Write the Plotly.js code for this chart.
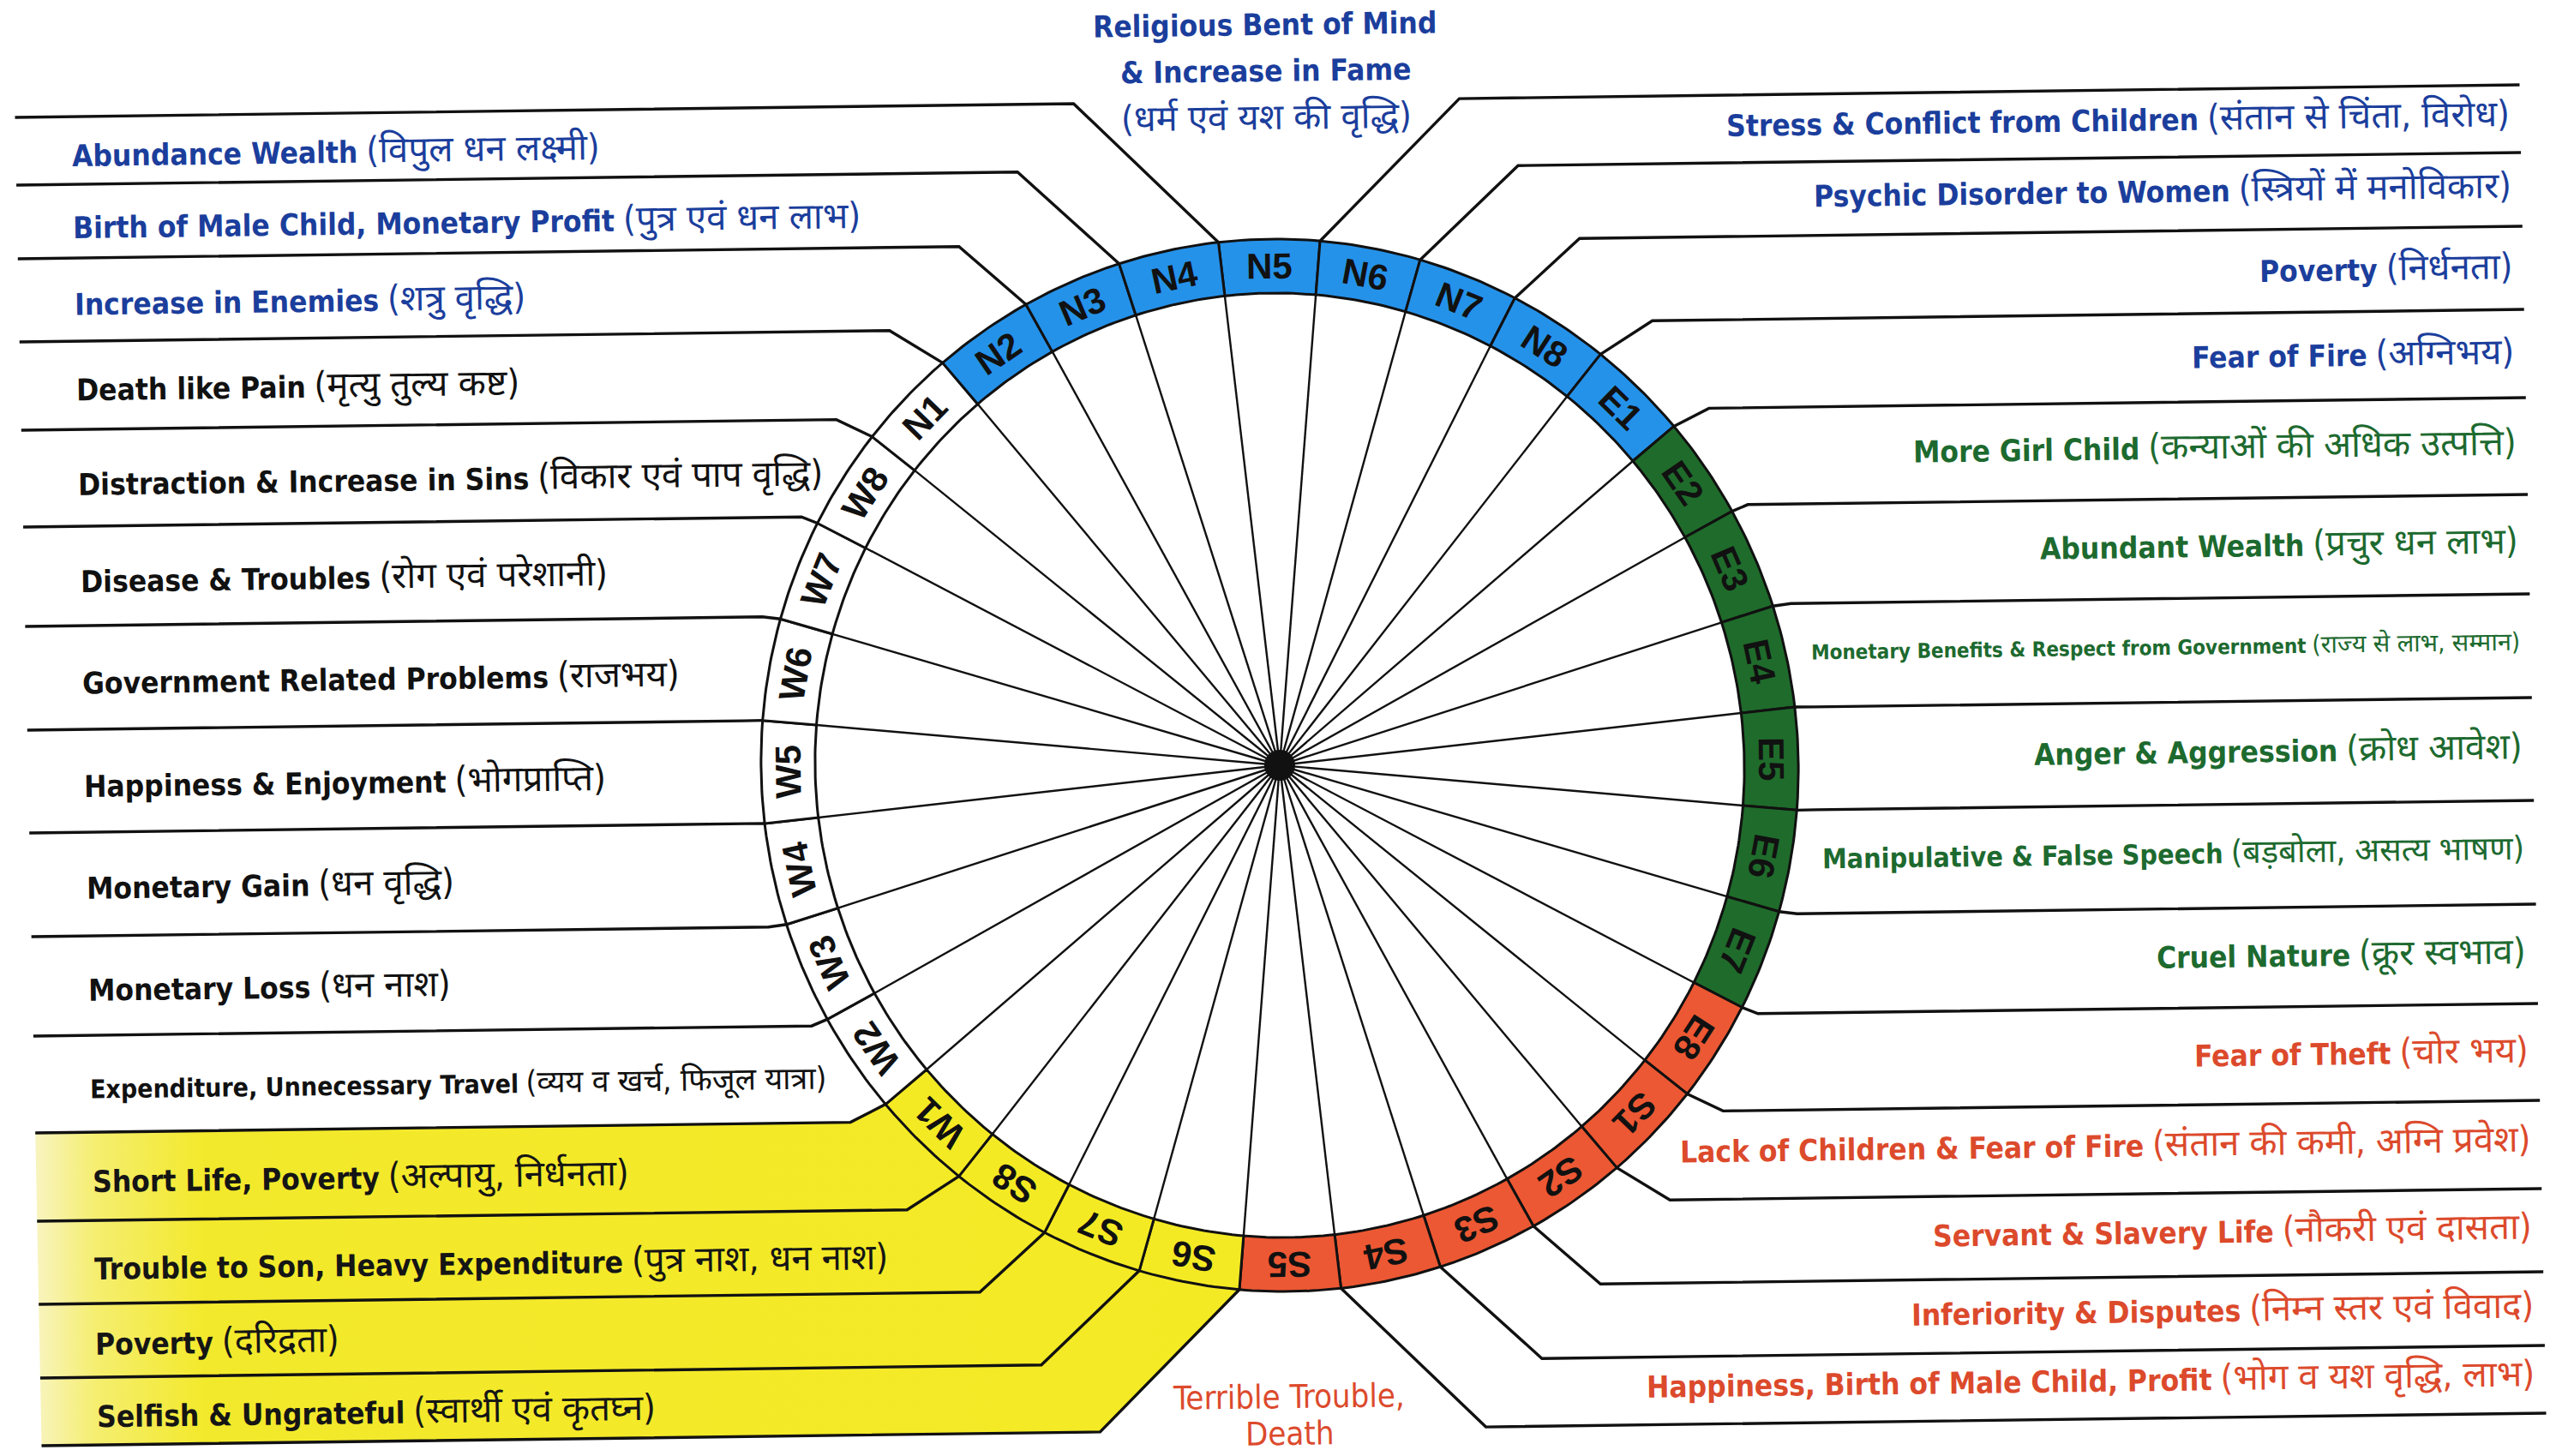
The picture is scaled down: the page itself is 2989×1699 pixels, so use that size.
<!DOCTYPE html>
<html>
<head>
<meta charset="utf-8">
<script src="https://cdn.plot.ly/plotly-3.0.1.min.js"></script>
<style>
html,body{margin:0;padding:0;background:#ffffff;}
#chart{width:2989px;height:1699px;}
</style>
</head>
<body>
<div id="chart"></div>
<script>
// ---------------- DATA ----------------
// 32 entrances (padas), clockwise from North-centre (N5 at the top)
const segments = ['N5','N6','N7','N8','E1','E2','E3','E4','E5','E6','E7','E8',
                  'S1','S2','S3','S4','S5','S6','S7','S8','W1','W2','W3','W4',
                  'W5','W6','W7','W8','N1','N2','N3','N4'];
// colour zone of each entrance
const zones = ['blue','blue','blue','blue','blue','green','green','green','green','green','green','red',
               'red','red','red','red','red','yellow','yellow','yellow','yellow','white','white','white',
               'white','white','white','white','white','blue','blue','blue'];
// effect of each entrance (same order as segments)
const effects = [
  'Religious Bent of Mind<br>& Increase in Fame<br>(धर्म एवं यश की वृद्धि)',
  'Stress & Conflict from Children (संतान से चिंता, विरोध)',
  'Psychic Disorder to Women (स्त्रियों में मनोविकार)',
  'Poverty (निर्धनता)',
  'Fear of Fire (अग्निभय)',
  'More Girl Child (कन्याओं की अधिक उत्पत्ति)',
  'Abundant Wealth (प्रचुर धन लाभ)',
  'Monetary Benefits & Respect from Government (राज्य से लाभ, सम्मान)',
  'Anger & Aggression (क्रोध आवेश)',
  'Manipulative & False Speech (बड़बोला, असत्य भाषण)',
  'Cruel Nature (क्रूर स्वभाव)',
  'Fear of Theft (चोर भय)',
  'Lack of Children & Fear of Fire (संतान की कमी, अग्नि प्रवेश)',
  'Servant & Slavery Life (नौकरी एवं दासता)',
  'Inferiority & Disputes (निम्न स्तर एवं विवाद)',
  'Happiness, Birth of Male Child, Profit (भोग व यश वृद्धि, लाभ)',
  'Terrible Trouble,<br>Death',
  'Selfish & Ungrateful (स्वार्थी एवं कृतघ्न)',
  'Poverty (दरिद्रता)',
  'Trouble to Son, Heavy Expenditure (पुत्र नाश, धन नाश)',
  'Short Life, Poverty (अल्पायु, निर्धनता)',
  'Expenditure, Unnecessary Travel (व्यय व खर्च, फिजूल यात्रा)',
  'Monetary Loss (धन नाश)',
  'Monetary Gain (धन वृद्धि)',
  'Happiness & Enjoyment (भोगप्राप्ति)',
  'Government Related Problems (राजभय)',
  'Disease & Troubles (रोग एवं परेशानी)',
  'Distraction & Increase in Sins (विकार एवं पाप वृद्धि)',
  'Death like Pain (मृत्यु तुल्य कष्ट)',
  'Increase in Enemies (शत्रु वृद्धि)',
  'Birth of Male Child, Monetary Profit (पुत्र एवं धन लाभ)',
  'Abundance Wealth (विपुल धन लक्ष्मी)'
];

// ---------------- STYLE / LAYOUT ----------------
const zoneFill = {blue:'#2592ea', green:'#1f6b2b', red:'#ec5833', yellow:'#f4ea24', white:'#ffffff'};
const zoneText = {blue:'#1b3e9c', green:'#1d6a2f', red:'#dc4a2c', yellow:'#151515', white:'#111111'};
const W = 2989, H = 1699;
const CX = 1493, CY = 893;
const RXo = 605, RYo = 614, RXi = 542, RYi = 551;
const SHEAR_X = 0.02, SHEAR_Y = -0.013;        // slight tilt of the photographed sheet
const TILT = Math.atan(SHEAR_Y) * 180 / Math.PI;
const N = segments.length, STEP = 360 / N;
const lineOff = [775, 696, 610, 513, 410, 297, 181, 60];  // leader-line heights above/below centre
const elbowDx = [225, 292, 362, 445, 509, 552, 600, 625];
const leftX = 33, rightX = 2955, leftTextX = 96, rightTextX = 2945;
const FONT = 'Liberation Sans Narrow, Arial Narrow, DejaVu Sans Condensed, Noto Sans Devanagari, Lohit Devanagari, sans-serif';
const SEGFONT = 'Liberation Sans, Arial, Noto Sans, sans-serif';
const labelSize = 35, smallSizes = {7: 24, 9: 32, 21: 30}, HINDI_SCALE = 1.2;

function T(x, y){ return [x + SHEAR_X * (y - CY), y + SHEAR_Y * (x - CX)]; }
function ringPt(deg, rx, ry){ const r = deg * Math.PI / 180; return [CX + rx * Math.sin(r), CY - ry * Math.cos(r)]; }
function lineY(j){ return j < 8 ? CY - lineOff[j] : CY + lineOff[15 - j]; }
function elbowOf(j){ return j < 8 ? elbowDx[j] : elbowDx[15 - j]; }
function hindi(t, size){ return '<span style="font-size:' + Math.round(size * HINDI_SCALE) + 'px">' + t + '</span>'; }
function fmt(t, size){
  const k = t.indexOf(' (');
  if (k < 0) return '<b>' + t + '</b>';
  return '<b>' + t.slice(0, k) + '</b> ' + hindi(t.slice(k + 1), size);
}

const traces = [];
// ---- yellow band behind W1..S6 labels ----
(function(){
  const xs = [], ys = [];
  const push = p => { const q = T(p[0], p[1]); xs.push(q[0]); ys.push(q[1]); };
  const j1 = 11, j2 = 15;
  push([leftX, lineY(j1)]);
  push([CX - elbowOf(j1), lineY(j1)]);
  const a1 = -(STEP / 2 + j1 * STEP), a2 = -(STEP / 2 + j2 * STEP);
  for (let k = 0; k <= 30; k++) push(ringPt(a1 + (a2 - a1) * k / 30, RXo, RYo));
  push([CX - elbowOf(j2), lineY(j2)]);
  push([leftX, lineY(j2)]);
  push([leftX, lineY(j1)]);
  traces.push({type:'scatter', mode:'lines', x:xs, y:ys, fill:'toself', fillcolor:zoneFill.yellow,
    fillgradient:{type:'horizontal', colorscale:[[0,'#f8f4c0'],[0.05,'#f5ee70'],[0.14,'#f3e92c'],[1,'#f4ea24']]},
    line:{width:0}, hoverinfo:'skip'});
})();

// ---- spokes ----
(function(){
  const xs = [], ys = [];
  for (let i = 0; i < N; i++) {
    const b = (i - 0.5) * STEP;
    const p = T(...ringPt(b, RXi, RYi));
    xs.push(CX, p[0], null); ys.push(CY, p[1], null);
  }
  traces.push({type:'scatter', mode:'lines', x:xs, y:ys, line:{color:'#111', width:2.4}, hoverinfo:'skip'});
})();

// ---- ring segments ----
segments.forEach((s, i) => {
  const a1 = i * STEP - STEP / 2, a2 = i * STEP + STEP / 2;
  const xs = [], ys = [];
  for (let k = 0; k <= 16; k++) { const q = T(...ringPt(a1 + (a2 - a1) * k / 16, RXo, RYo)); xs.push(q[0]); ys.push(q[1]); }
  for (let k = 16; k >= 0; k--) { const q = T(...ringPt(a1 + (a2 - a1) * k / 16, RXi, RYi)); xs.push(q[0]); ys.push(q[1]); }
  xs.push(xs[0]); ys.push(ys[0]);
  traces.push({type:'scatter', mode:'lines', x:xs, y:ys, fill:'toself', fillcolor:zoneFill[zones[i]],
    line:{color:'#111', width:3}, name:s, hoverinfo:'name'});
});

// ---- leader lines ----
(function(){
  const xs = [], ys = [];
  [-1, 1].forEach(side => {
    for (let j = 0; j < 16; j++) {
      const pts = [ringPt(side * (STEP / 2 + j * STEP), RXo, RYo),
                   [CX + side * elbowOf(j), lineY(j)],
                   [side < 0 ? leftX : rightX, lineY(j)]];
      pts.forEach(p => { const q = T(p[0], p[1]); xs.push(q[0]); ys.push(q[1]); });
      xs.push(null); ys.push(null);
    }
  });
  traces.push({type:'scatter', mode:'lines', x:xs, y:ys, line:{color:'#111', width:3.4}, hoverinfo:'skip'});
})();

// ---- centre dot ----
traces.push({type:'scatter', mode:'markers', x:[CX], y:[CY], marker:{color:'#111', size:36}, hoverinfo:'skip'});

// ---------------- ANNOTATIONS ----------------
const ann = [];
segments.forEach((s, i) => {
  const p = T(...ringPt(i * STEP, (RXo + RXi) / 2, (RYo + RYi) / 2));
  let ang = i * STEP + TILT; if (ang > 180) ang -= 360;
  ann.push({x:p[0], y:p[1], xref:'x', yref:'y', showarrow:false, text:'<b>' + s + '</b>',
    textangle:ang, xanchor:'center', yanchor:'middle', font:{family:SEGFONT, size:42, color:'#111'}});
});

effects.forEach((t, i) => {
  const col = zoneText[zones[i]];
  const size = smallSizes[i] || labelSize;
  if (i === 0) {
    const parts = t.split('<br>');
    const ys0 = [29, 83, 137];
    parts.forEach((pt, k) => {
      const q = T(CX, ys0[k]);
      ann.push({x:q[0], y:q[1], xref:'x', yref:'y', showarrow:false,
        text: pt.startsWith('(') ? hindi(pt, labelSize) : '<b>' + pt + '</b>',
        textangle:TILT, xanchor:'center', yanchor:'middle', font:{family:FONT, size:labelSize, color:col}});
    });
    return;
  }
  if (i === 16) {
    const parts = t.split('<br>');
    const ys0 = [1630, 1673];
    parts.forEach((pt, k) => {
      const q = T(CX - 4, ys0[k]);
      ann.push({x:q[0], y:q[1], xref:'x', yref:'y', showarrow:false, text:pt,
        textangle:TILT, xanchor:'center', yanchor:'middle', font:{family:FONT, size:38, color:col}});
    });
    return;
  }
  let j, side;
  if (i < 16) { j = i - 1; side = 1; } else { j = 31 - i; side = -1; }
  const y = (lineY(j) + lineY(j + 1)) / 2;
  const q = T(side < 0 ? leftTextX : rightTextX, y);
  ann.push({x:q[0], y:q[1], xref:'x', yref:'y', showarrow:false, text:fmt(t, size),
    textangle:TILT, xanchor: side < 0 ? 'left' : 'right', yanchor:'middle',
    font:{family:FONT, size:size, color:col}});
});

const layout = {
  width:W, height:H, margin:{l:0, r:0, t:0, b:0},
  paper_bgcolor:'#ffffff', plot_bgcolor:'#ffffff', showlegend:false,
  xaxis:{range:[0, W], visible:false, fixedrange:true},
  yaxis:{range:[H, 0], visible:false, fixedrange:true},
  annotations:ann
};
Plotly.newPlot('chart', traces, layout, {displayModeBar:false, staticPlot:true});
</script>
</body>
</html>
